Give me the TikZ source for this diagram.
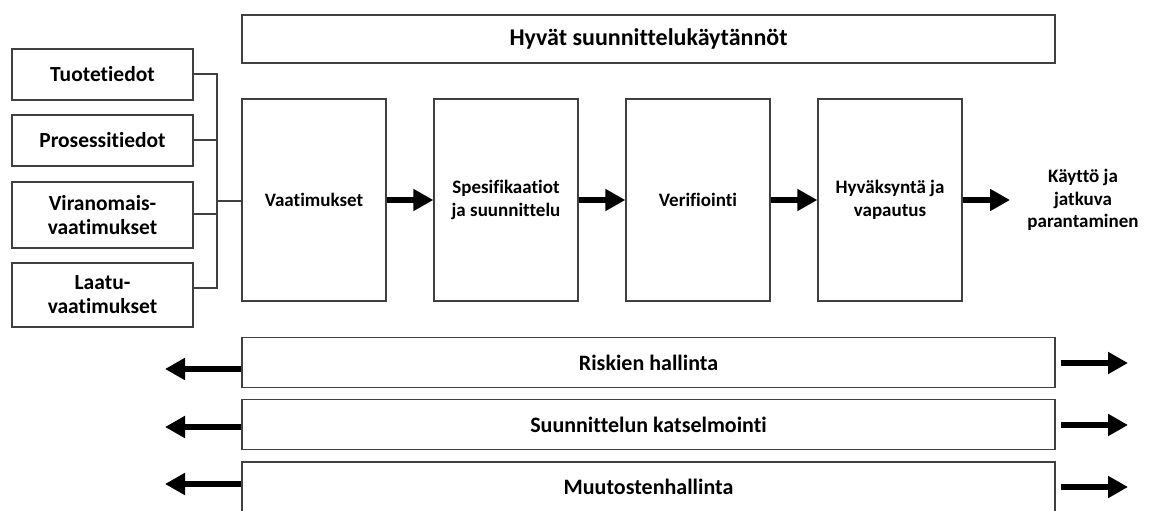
\documentclass[tikz,border=0pt]{standalone}
\usepackage{fontspec}
\setmainfont{Carlito}[Ligatures=NoCommon]
\usepackage{tikz}
\usetikzlibrary{arrows.meta,positioning}

\begin{document}
\begin{tikzpicture}[
      x=1pt, y=-1pt,
      box/.style={draw=black!75, line width=1.4pt, fill=white, align=center, inner sep=2pt},
      inbox/.style={box, minimum width=181pt, font=\fontsize{21.5}{24}\selectfont\bfseries},
      stage/.style={box, minimum width=144pt, minimum height=202pt},
      bar/.style={box, minimum width=813pt, minimum height=50pt, font=\fontsize{22}{26}\selectfont\bfseries},
      flow/.style={line width=6pt, -{Triangle[length=20pt,width=21pt]}},
      link/.style={draw=black!75, line width=1.2pt},
      every node/.style={font=\fontsize{19}{22.5}\selectfont\bfseries}
    ]
    \clip (0,0) rectangle (1149,511);
    % Good practice frame on top
    \node[box, minimum width=813pt, minimum height=48pt, font=\fontsize{24}{28}\selectfont\bfseries] (gdp) at (648.5,39) {Hyvät suunnittelukäytännöt};
    % Inputs on the left
    \node[inbox, minimum height=51pt] (tuote)  at (102.5,74.5) {Tuotetiedot};
    \node[inbox, minimum height=51pt] (prosessi) at (102.5,140.5) {Prosessitiedot};
    \node[inbox, minimum height=66pt] (viran)  at (102.5,215) {Viranomais-\\vaatimukset};
    \node[inbox, minimum height=64pt] (laatu)  at (102.5,295) {Laatu-\\vaatimukset};
    % Stages
    \node[stage] (vaat) at (314,200) {Vaatimukset};
    \node[stage] (spec) at (506,200) {Spesifikaatiot\\ja suunnittelu};
    \node[stage] (veri) at (698,200) {Verifiointi};
    \node[stage] (hyv)  at (890,200) {Hyväksyntä ja\\vapautus};
    \node[align=center] (kaytto) at (1083,200) {Käyttö ja\\jatkuva\\parantaminen};
    % Supporting activities
    \node[bar] (riski) at (648.5,362.5) {Riskien hallinta};
    \node[bar] (katsel) at (648.5,424.5) {Suunnittelun katselmointi};
    \node[bar] (muutos) at (648.5,487) {Muutostenhallinta};
    % Free ends of the arrows
    \coordinate (out) at (1010,200);
    \coordinate (riskiL) at (165,369);
    \coordinate (katselL) at (165,427);
    \coordinate (muutosL) at (165,484);
    \coordinate (riskiR) at (1128,363);
    \coordinate (katselR) at (1128,425);
    \coordinate (muutosR) at (1128,487);
    \coordinate (joint) at (217,201);
    % Bracket joining the inputs
    \draw[link] (tuote.east |- 0,74) -| (217,288) -- (laatu.east |- 0,288);
    \draw[link] (prosessi.east |- 0,140) -- (217,140);
    \draw[link] (viran.east |- 0,214) -- (217,214);
    \draw[link] (joint) -- (vaat.west |- joint);
    % Main flow
    \draw[flow] (vaat) -- (spec);
    \draw[flow] (spec) -- (veri);
    \draw[flow] (veri) -- (hyv);
    \draw[flow] (hyv) -- (out);
    % Side arrows
    \draw[flow] (riski.west |- riskiL) -- (riskiL);
    \draw[flow] (katsel.west |- katselL) -- (katselL);
    \draw[flow] (muutos.west |- muutosL) -- (muutosL);
    \draw[flow] ([xshift=5pt]riski.east |- riskiR) -- (riskiR);
    \draw[flow] ([xshift=5pt]katsel.east |- katselR) -- (katselR);
    \draw[flow] ([xshift=5pt]muutos.east |- muutosR) -- (muutosR);
  \end{tikzpicture}
\end{document}
